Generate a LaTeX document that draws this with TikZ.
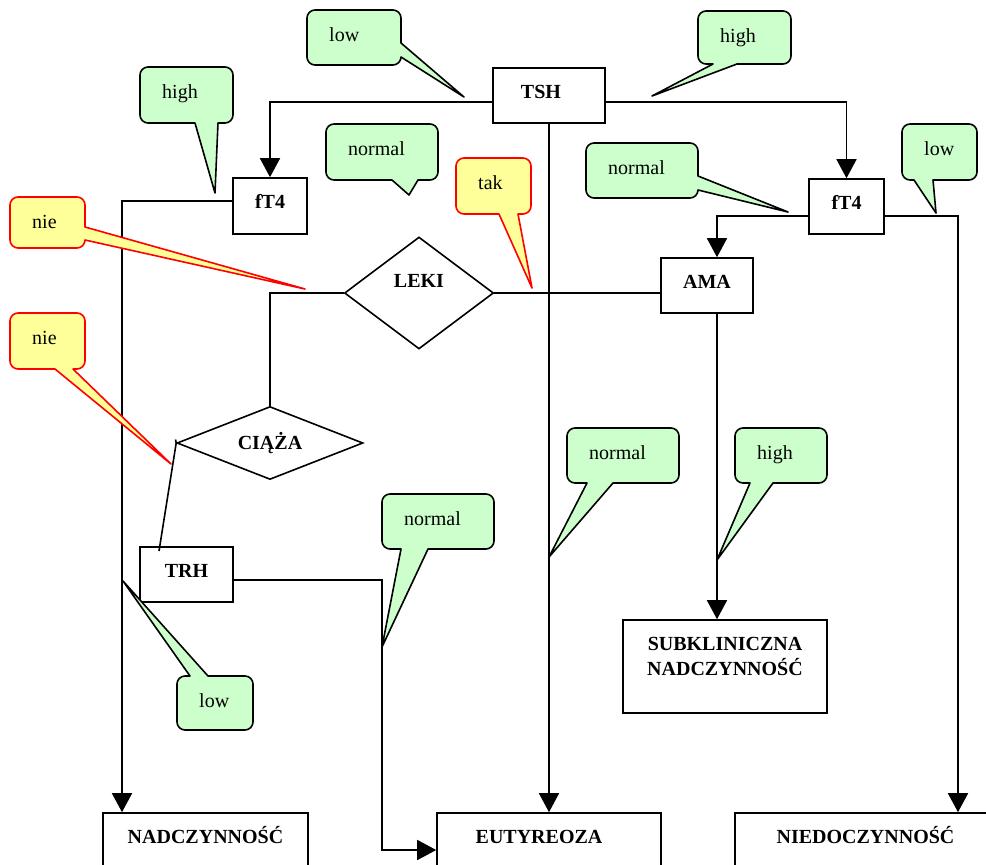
\documentclass[tikz,border=0pt]{standalone}
\usepackage{fontspec}
\setmainfont{Liberation Serif}
\usetikzlibrary{arrows.meta,shapes.geometric}
\definecolor{bubgreen}{HTML}{CCFFCC}
\definecolor{bubyellow}{HTML}{FFFF99}
\newcounter{bub}
% speech bubble: #1 style, #2-#5 box corners, #6/#7/#8 pointer on top/right/bottom side, #9 text
\newcommand\bubble[9]{%
  \path[#1] (#2+8,#3) #6 -- (#4-8,#3) .. controls (#4-3.6,#3) and (#4,#3+3.6) .. (#4,#3+8)
    #7 -- (#4,#5-8) .. controls (#4,#5-3.6) and (#4-3.6,#5) .. (#4-8,#5)
    #8 -- (#2+8,#5) .. controls (#2+3.6,#5) and (#2,#5-3.6) .. (#2,#5-8)
    -- (#2,#3+8) .. controls (#2,#3+3.6) and (#2+3.6,#3) .. (#2+8,#3) -- cycle;
  \stepcounter{bub}%
  \edef\bubname{bub\the\value{bub}}%
  \node[bubtext, anchor=base west] (\bubname) at (#2+22,#3+31.5) {#9};
}
\begin{document}
\begin{tikzpicture}[x=1pt,y=-1pt,
  frame/.style={draw, rectangle, line width=1.6pt, inner sep=0pt},
  box/.style={frame, font=\fontsize{20}{25}\selectfont\bfseries, text height=12pt, text depth=7pt},
  dia/.style={draw, diamond, line width=1.6pt, inner sep=0pt, font=\fontsize{20}{25}\selectfont\bfseries},
  boldtext/.style={inner sep=0pt, font=\fontsize{20}{25}\selectfont\bfseries},
  bubtext/.style={inner sep=0pt, font=\fontsize{20}{24}\selectfont},
  conn/.style={line width=1.6pt},
  arr/.style={conn, -{Triangle[length=19pt,width=20pt]}},
  gbub/.style={fill=bubgreen, draw=black, line width=1.6pt, line join=round},
  ybub/.style={fill=bubyellow, draw=red, line width=1.6pt, line join=round}]

\useasboundingbox (0,0) rectangle (986,865);
\clip (0,0) rectangle (986,865);
\fill[white] (0,0) rectangle (986,865);

% boxes
\node[box, minimum width=112pt, minimum height=55pt] (tsh) at (549,95.5) {\hspace*{-16pt}TSH};
\node[box, minimum width=74pt, minimum height=56pt] (ft4L) at (270,206) {fT4};
\node[box, minimum width=75pt, minimum height=55pt] (ft4R) at (846.5,206.5) {fT4};
\node[box, minimum width=92pt, minimum height=55pt] (ama) at (707,285.5) {AMA};
\node[box, minimum width=93pt, minimum height=55pt] (trh) at (186.5,574.5) {TRH};
\node[frame, minimum width=204pt, minimum height=93pt] (sub) at (725,666.5) {};
\node[boldtext, anchor=north, align=center] (subtxt) at (725,636.7) {SUBKLINICZNA\\NADCZYNNOŚĆ};
\node[box, minimum width=205pt, minimum height=55pt] (nad) at (205.5,840.5) {NADCZYNNOŚĆ};
\node[box, minimum width=224pt, minimum height=55pt] (eut) at (549,840.5) {\hspace*{-20pt}EUTYREOZA};
\node[box, minimum width=261pt, minimum height=55pt] (nie) at (865.5,840.5) {NIEDOCZYNNOŚĆ};

% decisions
\node[dia, minimum width=149pt, minimum height=112pt, text height=13pt, text depth=25pt] (leki) at (419,293) {LEKI};
\node[dia, minimum width=186pt, minimum height=73pt, aspect=2.5] (ciaza) at (270,443) {CIĄŻA};

% junction points
\coordinate (tl) at (271,102);
\coordinate (tr) at (847,102);
\coordinate (nl) at (122,201);
\coordinate (ar) at (717,216);
\coordinate (nr) at (958,216);
\coordinate (e1) at (382,580);
\coordinate (e2) at (382,850);
\coordinate (tk) at (175.5,439.5);
\coordinate (tn) at (159,551);

% connectors
\draw[arr] (tsh.west |- tl) -| (ft4L.north);
\draw[arr] (tsh.east |- tr) -| (ft4R.north);
\draw[arr] (tsh.south) -- (eut.north);
\draw[arr] (ft4L.west |- nl) -- (nl) -- (nl |- nad.north);
\draw[arr] (ft4R.west |- ar) -- (ar) -- (ar |- ama.north);
\draw[arr] (ft4R.east |- nr) -- (nr) -- (nr |- nie.north);
\draw[arr] (ar |- ama.south) -- (ar |- sub.north);
\draw[conn] (leki.east) -- (leki.east -| ama.west);
\draw[conn] (leki.west) -| (ciaza.north);
\draw[conn] (tk) -- (ciaza.west) -- (tn);
\draw[arr] (trh.east |- e1) -- (e1) -- (e2) -- (e2 -| eut.west);

% speech bubbles
\bubble{gbub}{307}{10}{401}{65}{}{-- (401,43) -- (464,97) -- (401,57)}{}{low}
\bubble{gbub}{698}{11}{791}{64}{}{}{-- (737,64) -- (652,96) -- (713,64)}{high}
\bubble{gbub}{140}{67}{233}{123}{}{}{-- (218,123) -- (215,193) -- (195,123)}{high}
\bubble{gbub}{326}{124}{438}{180}{}{}{-- (418,180) -- (409,195) -- (392,180)}{normal}
\bubble{ybub}{456}{158}{531}{214}{}{}{-- (518,214) -- (532,288) -- (499,214)}{tak}
\bubble{gbub}{586}{143}{698}{198}{}{-- (698,176) -- (788,212) -- (698,190)}{}{normal}
\bubble{gbub}{902}{124}{977}{180}{}{}{-- (933,180) -- (936,213) -- (914,180)}{low}
\bubble{ybub}{10}{197}{85}{248}{}{-- (85,227) -- (305,289) -- (85,240)}{}{nie}
\bubble{ybub}{10}{313}{85}{369}{}{}{-- (73,369) -- (171,464) -- (55,369)}{nie}
\bubble{gbub}{567}{428}{679}{483}{}{}{-- (613,483) -- (549,557) -- (587,483)}{normal}
\bubble{gbub}{735}{428}{827}{483}{}{}{-- (773,483) -- (717,560) -- (750,483)}{high}
\bubble{gbub}{382}{494}{494}{549}{}{}{-- (428,549) -- (382,647) -- (401,549)}{normal}
\bubble{gbub}{177}{676}{253}{730}{-- (190,676) -- (123,581) -- (208,676)}{}{}{low}

\end{tikzpicture}
\end{document}
